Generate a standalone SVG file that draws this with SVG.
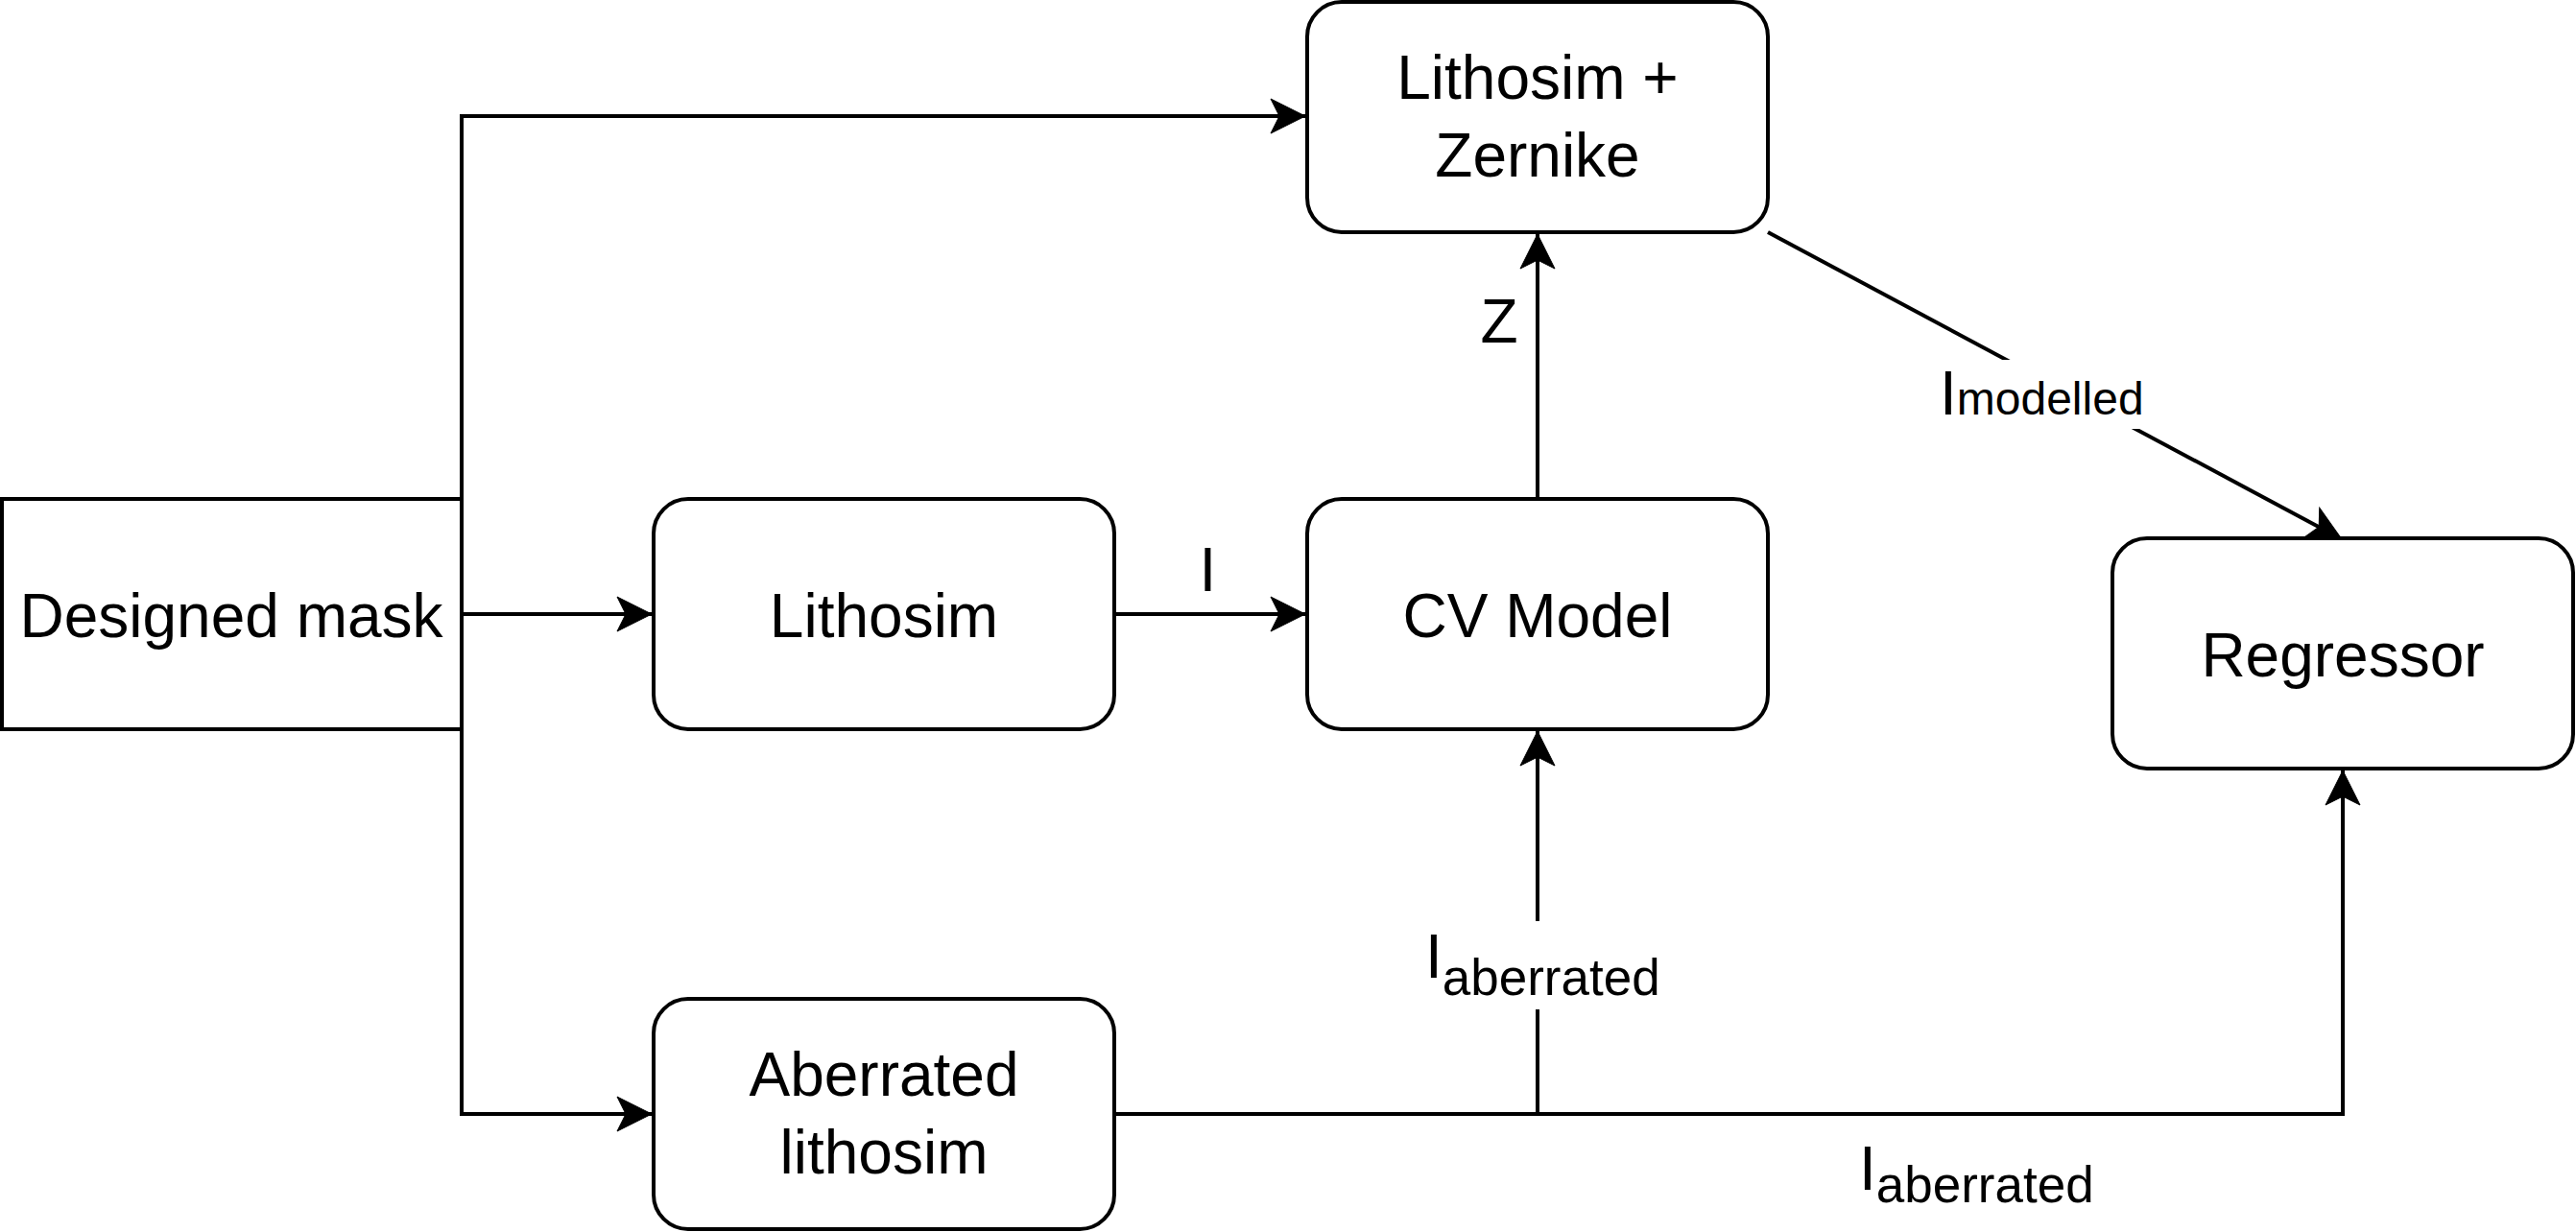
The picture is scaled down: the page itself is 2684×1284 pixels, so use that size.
<svg xmlns="http://www.w3.org/2000/svg" width="2684" height="1284" viewBox="0 0 2684 1284">
<style>
.box{fill:#fff;stroke:#000;stroke-width:4}
.t{font-family:"Liberation Sans",Arial,sans-serif;font-size:64px;fill:#000;text-anchor:middle}
.l{font-family:"Liberation Sans",Arial,sans-serif;fill:#000}
.c{fill:none;stroke:#000;stroke-width:4}
</style>
<defs>
<marker id="arr" markerUnits="userSpaceOnUse" markerWidth="44" markerHeight="44" viewBox="-40 -22 44 44" refX="0" refY="0" orient="auto">
<path d="M0,0 L-36,-18 L-27,0 L-36,18 Z" fill="#000" stroke="#000" stroke-width="1"/>
</marker>
</defs>
<rect width="2684" height="1284" fill="#fff"/>
<g id="connectors">
<path class="c" d="M481,520 V121 H1360" marker-end="url(#arr)"/>
<path class="c" d="M481,640 H679" marker-end="url(#arr)"/>
<path class="c" d="M481,760 V1161 H679" marker-end="url(#arr)"/>
<path class="c" d="M1161,640 H1360" marker-end="url(#arr)"/>
<path class="c" d="M1602,520 V244" marker-end="url(#arr)"/>
<path class="c" d="M1842,242 L2440,562" marker-end="url(#arr)"/>
<path class="c" d="M1161,1161 H1602 V762" marker-end="url(#arr)"/>
<path class="c" d="M1602,1161 H2441 V803" marker-end="url(#arr)"/>
<text class="t" x="1258.5" y="616">I</text>
<text class="t" x="1562" y="357">Z</text>
<rect x="2018" y="375" width="218" height="72" fill="#fff"/>
<text class="l" x="2021" y="432" font-size="64">I<tspan font-size="48">modelled</tspan></text>
<rect x="1484" y="960" width="248" height="92" fill="#fff"/>
<text class="l" x="1485" y="1019" font-size="64">I<tspan font-size="53" dy="18">aberrated</tspan></text>
<text class="l" x="1937" y="1240" font-size="64">I<tspan font-size="53" dy="13">aberrated</tspan></text>
</g>
<g id="designed-mask">
<rect class="box" x="2" y="520" width="479" height="240"/>
<text class="t" x="241" y="664">Designed mask</text>
</g>
<g id="lithosim">
<rect class="box" x="681" y="520" width="480" height="240" rx="36"/>
<text class="t" x="921" y="664">Lithosim</text>
</g>
<g id="cv-model">
<rect class="box" x="1362" y="520" width="480" height="240" rx="36"/>
<text class="t" x="1602" y="664">CV Model</text>
</g>
<g id="lithosim-zernike">
<rect class="box" x="1362" y="2" width="480" height="240" rx="36"/>
<text class="t" x="1602" y="103">Lithosim +</text>
<text class="t" x="1602" y="184">Zernike</text>
</g>
<g id="regressor">
<rect class="box" x="2201" y="561" width="480" height="240" rx="36"/>
<text class="t" x="2441" y="705">Regressor</text>
</g>
<g id="aberrated-lithosim">
<rect class="box" x="681" y="1041" width="480" height="240" rx="36"/>
<text class="t" x="921" y="1142">Aberrated</text>
<text class="t" x="921" y="1223">lithosim</text>
</g>
</svg>
